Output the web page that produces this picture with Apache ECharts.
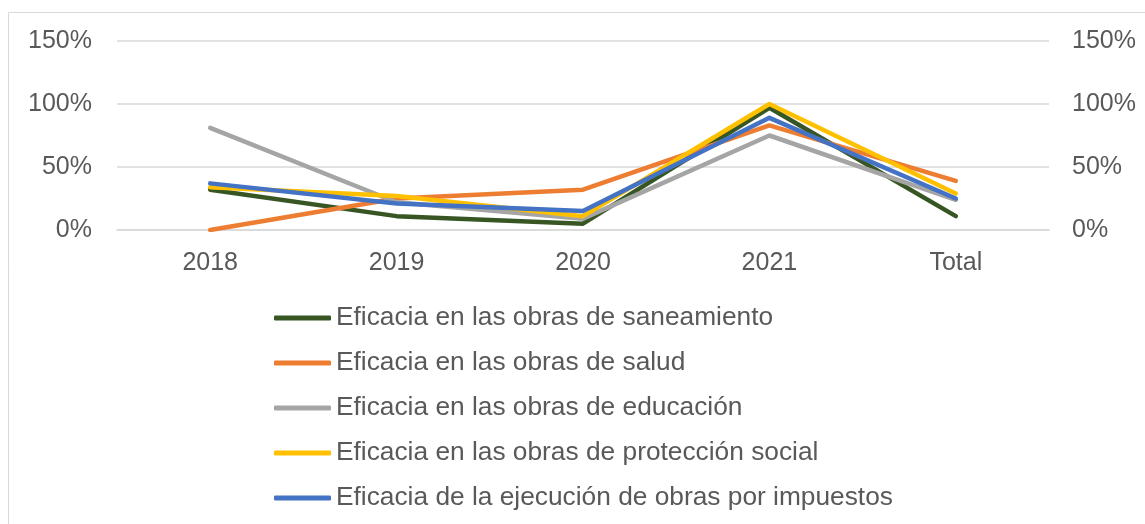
<!DOCTYPE html>
<html>
<head>
<meta charset="utf-8">
<script src="https://cdn.jsdelivr.net/npm/echarts@6/dist/echarts.min.js"></script>
<style>
  html, body { margin: 0; padding: 0; background: #fff; }
  #chart { width: 1145px; height: 524px; }
</style>
</head>
<body>
<div id="chart"></div>
<script>
// categorias y valores (%)
const categories = ['2018', '2019', '2020', '2021', 'Total']
const saneamiento = [32, 11, 5, 97, 11]
const salud = [0, 25, 32, 83, 39]
const educacion = [81, 22, 9, 75, 24]
const proteccion = [34, 27, 11, 100, 29]
const impuestos = [37, 21, 15, 89, 25]
const yTicks = [0, 50, 100, 150]

const seriesDefs = [
  { name: 'Eficacia en las obras de saneamiento', data: saneamiento, color: '#375623' },
  { name: 'Eficacia en las obras de salud', data: salud, color: '#ED7D31' },
  { name: 'Eficacia en las obras de educación', data: educacion, color: '#A5A5A5' },
  { name: 'Eficacia en las obras de protección social', data: proteccion, color: '#FFC000' },
  { name: 'Eficacia de la ejecución de obras por impuestos', data: impuestos, color: '#4472C4' }
]

const chart = echarts.init(document.getElementById('chart'))
const font = 'Liberation Sans, Arial, sans-serif'
const labelColor = '#595959'

const yAxisBase = {
  type: 'value',
  min: yTicks[0],
  max: yTicks[yTicks.length - 1],
  interval: 50,
  axisLine: { show: false },
  axisTick: { show: false },
  axisLabel: { color: labelColor, fontSize: 25, fontFamily: font, formatter: '{value}%' }
}

chart.setOption({
  animation: false,
  graphic: [
    {
      type: 'rect',
      shape: { x: 8.5, y: 12.5, width: 1200, height: 600 },
      style: { fill: 'none', stroke: '#d9d9d9', lineWidth: 1 },
      silent: true
    }
  ],
  grid: { left: 117, right: 96, top: 41, bottom: 294 },
  legend: {
    orient: 'vertical',
    left: 274,
    top: 304,
    padding: 0,
    icon: 'roundRect',
    itemWidth: 57,
    itemHeight: 5,
    itemGap: 17,
    textStyle: { color: labelColor, fontSize: 26.3, fontFamily: font, lineHeight: 28 },
    data: seriesDefs.map((s) => s.name)
  },
  xAxis: {
    type: 'category',
    data: categories,
    boundaryGap: true,
    axisLine: { show: true, lineStyle: { color: '#d9d9d9', width: 1.5 } },
    axisTick: { show: false },
    axisLabel: { color: labelColor, fontSize: 25, fontFamily: font, margin: 21 }
  },
  yAxis: [
    Object.assign({}, yAxisBase, {
      position: 'left',
      axisLabel: Object.assign({}, yAxisBase.axisLabel, { margin: 25 }),
      splitLine: { lineStyle: { color: '#d9d9d9', width: 1.5 } }
    }),
    Object.assign({}, yAxisBase, {
      position: 'right',
      axisLabel: Object.assign({}, yAxisBase.axisLabel, { margin: 23 }),
      splitLine: { show: false }
    })
  ],
  series: seriesDefs.map((s) => ({
    name: s.name,
    type: 'line',
    yAxisIndex: 0,
    data: s.data,
    showSymbol: false,
    symbol: 'none',
    color: s.color,
    itemStyle: { color: s.color },
    lineStyle: { color: s.color, width: 4.5, cap: 'round', join: 'round' }
  }))
})
</script>
</body>
</html>
